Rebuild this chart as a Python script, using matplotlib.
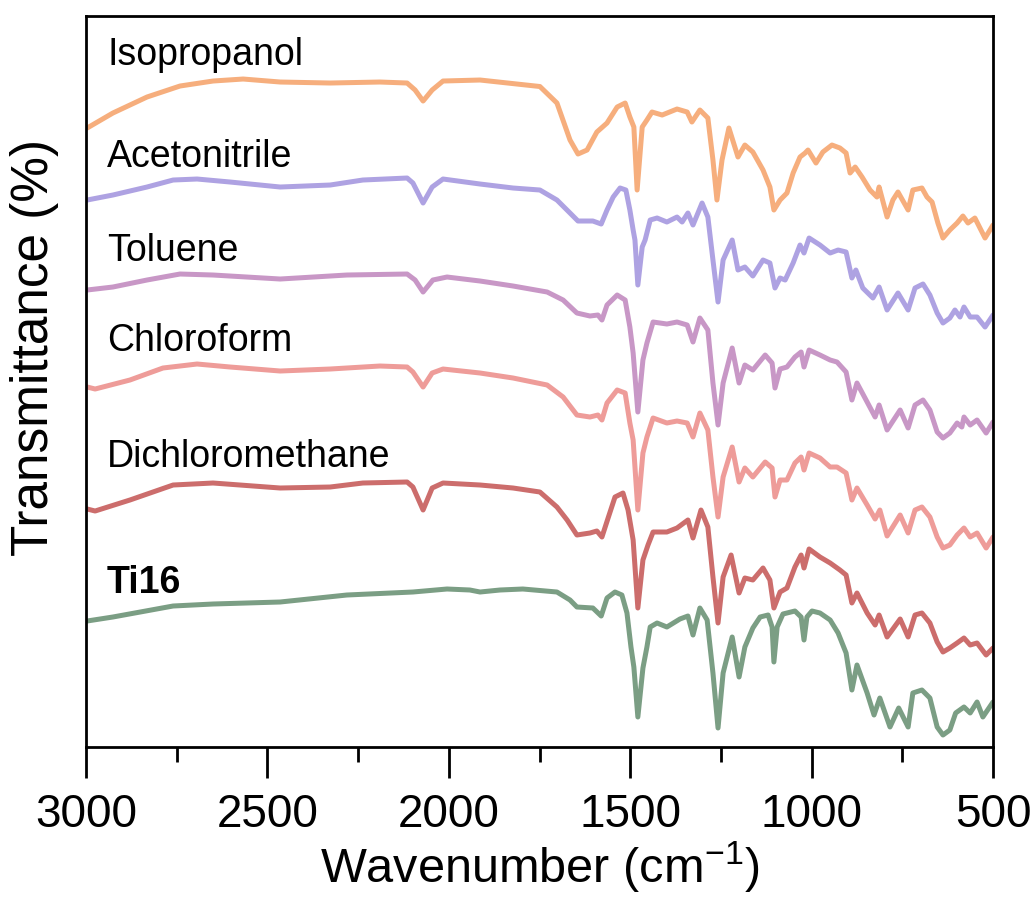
"""
FTIR spectra of Ti16 soaked in different solvents (stacked).
"""
import matplotlib
matplotlib.use("Agg")
import matplotlib.pyplot as plt
from matplotlib.ticker import MultipleLocator

plt.rcParams["font.family"] = ["Liberation Sans", "DejaVu Sans"]
plt.rcParams["mathtext.fontset"] = "custom"
plt.rcParams["mathtext.rm"] = "Liberation Sans"
plt.rcParams["mathtext.default"] = "regular"

# ---- data (wavenumber in cm-1, transmittance in stacked arbitrary units) ----
iso_wn = [2997, 2926, 2832, 2741, 2650, 2567, 2465, 2327, 2190, 2115, 2093, 2071, 2046, 2016,
          1914, 1749, 1702, 1666, 1644, 1619, 1592, 1564, 1536, 1514, 1501, 1490, 1481, 1467,
          1454, 1440, 1412, 1371, 1343, 1330, 1308, 1286, 1272, 1261, 1247, 1228, 1203, 1184,
          1162, 1134, 1115, 1104, 1087, 1068, 1051, 1032, 1018, 1010, 988, 969, 944, 922, 905,
          894, 880, 861, 839, 820, 814, 792, 776, 762, 734, 721, 696, 682, 668, 652, 638, 619,
          599, 583, 569, 550, 522, 500]
iso_t = [123.8, 126.8, 130.0, 132.2, 133.2, 133.6, 133.0, 132.8, 133.0, 132.8, 131.4, 129.2, 131.4, 133.2,
         133.4, 132.1, 128.8, 121.4, 118.6, 119.4, 123.0, 124.8, 128.0, 128.8, 126.0, 124.0, 111.4, 124.0,
         125.4, 127.0, 126.4, 127.6, 127.0, 125.0, 127.4, 125.8, 117.4, 109.4, 117.4, 123.8, 118.0, 120.4,
         119.0, 115.4, 112.0, 107.4, 109.4, 110.8, 114.8, 118.0, 118.8, 119.4, 116.8, 119.0, 120.4, 119.8, 118.8,
         114.8, 116.0, 114.0, 111.4, 110.0, 112.0, 106.0, 109.4, 111.0, 107.4, 111.4, 111.8, 110.0, 109.0, 104.8, 101.8, 103.4,
         104.8, 106.2, 104.8, 105.8, 101.8, 104.4]

ace_wn = [2997, 2926, 2832, 2760, 2694, 2603, 2465, 2327, 2237, 2115, 2099, 2071, 2046, 2016,
          1914, 1823, 1749, 1702, 1666, 1644, 1603, 1580, 1564, 1547, 1528, 1512, 1501, 1492, 1487,
          1479, 1467, 1459, 1445, 1426, 1399, 1371, 1357, 1341, 1327, 1302, 1286, 1272, 1258, 1244,
          1219, 1203, 1184, 1162, 1134, 1115, 1101, 1087, 1073, 1051, 1032, 1021, 1007, 977, 949,
          927, 905, 889, 878, 859, 831, 814, 792, 762, 734, 715, 693, 674, 654, 638, 619, 605,
          591, 580, 563, 544, 522, 500]
ace_t = [109.4, 110.4, 112.0, 113.4, 113.6, 113.0, 112.0, 112.4, 113.4, 113.8, 112.8, 108.8, 112.0, 113.6,
         112.6, 111.8, 111.4, 109.4, 106.8, 105.2, 105.2, 104.6, 107.4, 110.0, 111.8, 111.4, 107.4, 103.4, 101.4,
         92.4, 100.0, 101.4, 105.4, 105.8, 105.0, 106.0, 105.0, 106.8, 104.4, 108.8, 106.0, 97.4, 89.0, 97.4,
         101.4, 95.4, 96.0, 94.2, 97.4, 96.8, 91.8, 93.8, 93.4, 96.8, 100.4, 98.8, 101.8, 100.4, 98.8,
         99.4, 99.0, 93.8, 95.4, 91.8, 89.8, 92.0, 87.4, 90.8, 87.4, 91.8, 92.6, 90.4, 86.8, 84.8, 85.8, 87.4,
         86.0, 88.0, 86.0, 86.0, 84.0, 86.4]

tol_wn = [2997, 2926, 2832, 2741, 2650, 2465, 2281, 2115, 2093, 2071, 2044, 2005,
          1914, 1823, 1729, 1685, 1647, 1611, 1589, 1578, 1564, 1536, 1514, 1501, 1492, 1479,
          1465, 1454, 1437, 1399, 1371, 1343, 1327, 1308, 1286, 1272, 1258, 1244, 1219, 1200,
          1184, 1162, 1128, 1109, 1101, 1087, 1068, 1046, 1029, 1021, 1007, 977, 949, 930, 905,
          889, 875, 847, 825, 814, 792, 756, 734, 715, 693, 674, 654, 638, 619, 599, 586, 580,
          563, 544, 519, 500]
tol_t = [91.4, 92.0, 93.4, 94.6, 94.4, 93.6, 94.4, 94.6, 93.4, 91.0, 93.4, 94.0,
         93.2, 92.2, 91.0, 89.4, 86.8, 86.2, 86.4, 85.4, 88.4, 90.4, 89.4, 84.0, 78.8, 67.0,
         77.4, 80.8, 85.0, 84.6, 85.0, 84.4, 81.0, 85.8, 83.4, 72.8, 64.4, 72.8, 79.8, 72.8,
         76.4, 75.4, 78.4, 76.8, 71.8, 75.6, 76.0, 78.0, 79.0, 76.0, 79.4, 78.4, 77.4, 77.0, 75.0,
         69.4, 72.8, 69.0, 66.0, 68.4, 63.4, 67.4, 63.8, 68.4, 69.4, 67.4, 63.0, 61.8, 62.8, 64.8, 64.0, 66.0,
         64.4, 65.4, 62.8, 65.0]

chl_wn = [2997, 2975, 2879, 2788, 2694, 2603, 2465, 2327, 2190, 2115, 2099, 2071, 2046, 2016,
          1914, 1823, 1729, 1685, 1647, 1611, 1589, 1578, 1564, 1536, 1514, 1501, 1492, 1479,
          1465, 1454, 1437, 1399, 1371, 1343, 1327, 1308, 1286, 1272, 1258, 1244, 1219, 1200,
          1184, 1162, 1128, 1109, 1101, 1087, 1068, 1046, 1029, 1021, 1007, 977, 949, 930, 905,
          889, 875, 847, 825, 812, 792, 756, 734, 715, 696, 674, 654, 638, 619, 599, 580, 563,
          544, 519, 500]
chl_t = [72.0, 71.6, 73.4, 75.8, 76.6, 76.0, 75.2, 75.6, 76.2, 76.0, 75.0, 72.0, 74.8, 75.6,
         74.8, 73.8, 72.4, 70.0, 66.4, 66.0, 66.4, 65.4, 68.8, 71.4, 70.8, 64.8, 61.4, 47.4,
         58.8, 62.0, 65.8, 64.8, 65.2, 64.8, 62.0, 66.8, 63.4, 54.0, 46.0, 54.0, 60.0, 53.0,
         55.8, 54.0, 57.0, 55.8, 50.0, 53.4, 53.4, 56.8, 58.0, 55.4, 58.8, 57.8, 56.0, 56.0, 54.8,
         49.4, 51.8, 48.4, 45.6, 47.4, 42.2, 46.4, 42.8, 47.4, 48.0, 46.0, 42.0, 39.8, 40.4, 42.4, 43.8, 42.0,
         42.8, 39.8, 42.0]

dcm_wn = [2997, 2975, 2879, 2760, 2650, 2465, 2327, 2237, 2115, 2099, 2071, 2046, 2016,
          1914, 1823, 1749, 1702, 1674, 1647, 1611, 1592, 1578, 1561, 1542, 1520, 1506, 1492,
          1479, 1465, 1451, 1437, 1399, 1371, 1341, 1327, 1305, 1286, 1272, 1258, 1244, 1222,
          1200, 1184, 1162, 1134, 1115, 1104, 1087, 1068, 1046, 1029, 1021, 1007, 977, 949, 922,
          905, 889, 875, 847, 825, 814, 792, 756, 734, 715, 696, 674, 654, 638, 619, 599, 580,
          563, 544, 519, 500]
dcm_t = [47.6, 47.2, 49.4, 52.4, 52.8, 51.8, 52.0, 52.8, 53.0, 52.0, 47.4, 51.8, 52.8,
         52.4, 51.8, 51.0, 48.0, 45.4, 42.4, 42.8, 43.2, 42.0, 45.8, 50.0, 50.8, 47.4, 41.4,
         27.8, 37.4, 40.4, 43.0, 43.0, 43.8, 45.4, 41.8, 47.4, 44.0, 34.0, 24.8, 34.0, 38.4,
         30.8, 33.8, 33.4, 35.8, 33.4, 27.8, 31.0, 31.8, 36.0, 38.4, 35.8, 39.6, 38.0, 36.8, 35.4,
         34.4, 28.8, 30.8, 26.8, 24.4, 26.4, 22.0, 25.6, 22.0, 26.4, 26.8, 24.8, 21.0, 19.0, 19.8, 20.8, 21.8,
         20.4, 20.8, 18.4, 19.8]

ti16_wn = [2997, 2926, 2760, 2650, 2465, 2281, 2099, 2005, 1942, 1914, 1859, 1796, 1702, 1666,
           1647, 1603, 1580, 1564, 1542, 1523, 1509, 1498, 1490, 1479, 1465, 1454, 1445, 1426,
           1399, 1363, 1341, 1327, 1308, 1288, 1272, 1258, 1244, 1219, 1200, 1184, 1162, 1142,
           1120, 1109, 1104, 1095, 1079, 1046, 1029, 1021, 1013, 999, 977, 949, 927, 905, 889,
           875, 847, 828, 812, 784, 760, 734, 721, 696, 674, 654, 638, 619, 603, 580, 563, 544,
           528, 500]
ti16_t = [25.2, 26.0, 28.2, 28.6, 29.0, 30.4, 31.0, 31.6, 31.4, 31.0, 31.4, 31.6, 31.0, 29.4,
          28.0, 27.8, 26.2, 29.8, 31.0, 30.4, 26.8, 20.0, 16.0, 6.0, 15.8, 20.0, 24.0, 24.8,
          24.0, 25.6, 26.2, 22.4, 27.8, 25.4, 14.8, 3.8, 14.8, 22.0, 14.0, 20.0, 23.8, 26.0,
          26.4, 24.0, 17.0, 24.0, 26.6, 27.2, 26.0, 21.4, 26.0, 27.2, 26.8, 25.4, 22.8, 18.8, 11.4,
          16.4, 10.8, 6.4, 9.8, 4.0, 7.8, 4.0, 10.8, 11.4, 9.8, 4.0, 2.4, 3.4, 6.8, 8.0, 6.8, 9.0,
          6.0, 9.0]

names = ["Isopropanol", "Acetonitrile", "Toluene", "Chloroform", "Dichloromethane", "Ti16"]
colors = ["#F6AE7D", "#AEA2E2", "#C897C6", "#EE9C99", "#CC6D6C", "#7B9E84"]
label_y = [138.4, 118.0, 99.2, 81.2, 58.0, 32.8]

spectra = [(iso_wn, iso_t), (ace_wn, ace_t), (tol_wn, tol_t),
           (chl_wn, chl_t), (dcm_wn, dcm_t), (ti16_wn, ti16_t)]

fig = plt.figure(figsize=(10.33, 9.0), dpi=100)
ax = fig.add_axes([0.0833, 0.17, 0.878, 0.8122])

for (wn, t), name, c, ly in zip(spectra, names, colors, label_y):
    ax.plot(wn, t, color=c, lw=3.6, solid_joinstyle="round", solid_capstyle="round")
    weight = "bold" if name == "Ti16" else "normal"
    ax.text(2942, ly, name, fontsize=27, fontweight=weight, va="center", ha="left")

ax.set_xlim(3000, 500)
ax.set_ylim(0, 146.2)
ax.set_xticks([3000, 2500, 2000, 1500, 1000, 500])
ax.xaxis.set_minor_locator(MultipleLocator(250))
ax.set_yticks([])
ax.tick_params(axis="x", which="major", direction="out", length=22, width=2,
               labelsize=33, pad=11, top=False)
ax.tick_params(axis="x", which="minor", direction="out", length=11, width=2, top=False)
for s in ax.spines.values():
    s.set_linewidth(2)

ax.set_xlabel("Wavenumber (cm$^{-1}$)", fontsize=35, labelpad=2)
ax.set_ylabel("Transmittance (%)", fontsize=37)
ax.yaxis.set_label_coords(-0.03, 0.546)

fig.savefig("out.png", dpi=100)
